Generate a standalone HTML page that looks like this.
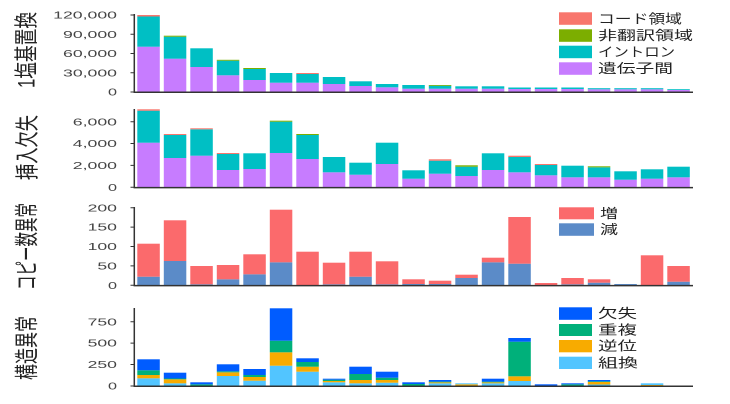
<!DOCTYPE html>
<html><head><meta charset="utf-8">
<style>
html,body{margin:0;padding:0;background:#fff;}
svg{display:block;}
.p{fill:#c77cff}.c{fill:#00bfc4}.g{fill:#7cae00}.r{fill:#f8766d}
.R{fill:#fb6a6c}.B{fill:#5b8bc8}
.k{fill:#005cff}.e{fill:#00b07a}.o{fill:#f8ab00}.l{fill:#52c5ff}
.t{font-family:"Liberation Sans",sans-serif;font-size:10px;fill:#444;}
.j{font-family:"Liberation Sans","Noto Sans CJK JP",sans-serif;fill:#222;}
.ax{stroke:#333;stroke-width:1.5;fill:none}
.tk{stroke:#333;stroke-width:1;fill:none}
</style></head><body>
<svg width="730" height="404" viewBox="0 0 730 404" xmlns="http://www.w3.org/2000/svg">
<rect width="730" height="404" fill="#fff"/>

<!-- ============ Panel 1 ============ -->
<g>
<rect class="p" x="137.3" y="46.7" width="22.5" height="45.3"/><rect class="c" x="137.3" y="16.5" width="22.5" height="30.2"/><rect class="r" x="137.3" y="15" width="22.5" height="1.5"/>
<rect class="p" x="163.8" y="58.7" width="22.5" height="33.3"/><rect class="c" x="163.8" y="36.7" width="22.5" height="22"/><rect class="g" x="163.8" y="35.7" width="22.5" height="1"/>
<rect class="p" x="190.3" y="67" width="22.5" height="25"/><rect class="c" x="190.3" y="48.3" width="22.5" height="18.7"/>
<rect class="p" x="216.8" y="75.3" width="22.5" height="16.7"/><rect class="c" x="216.8" y="60.7" width="22.5" height="14.6"/><rect class="g" x="216.8" y="59.8" width="22.5" height="0.9"/>
<rect class="p" x="243.3" y="80" width="22.5" height="12"/><rect class="c" x="243.3" y="69" width="22.5" height="11"/><rect class="g" x="243.3" y="68" width="22.5" height="1"/>
<rect class="p" x="269.8" y="82.7" width="22.5" height="9.3"/><rect class="c" x="269.8" y="73" width="22.5" height="9.7"/>
<rect class="p" x="296.3" y="82.7" width="22.5" height="9.3"/><rect class="c" x="296.3" y="74" width="22.5" height="8.7"/><rect class="r" x="296.3" y="73" width="22.5" height="1"/>
<rect class="p" x="322.8" y="84" width="22.5" height="8"/><rect class="c" x="322.8" y="77" width="22.5" height="7"/>
<rect class="p" x="349.3" y="86" width="22.5" height="6"/><rect class="c" x="349.3" y="81.3" width="22.5" height="4.7"/>
<rect class="p" x="375.8" y="87.3" width="22.5" height="4.7"/><rect class="c" x="375.8" y="84" width="22.5" height="3.3"/>
<rect class="p" x="402.3" y="88.7" width="22.5" height="3.3"/><rect class="c" x="402.3" y="85" width="22.5" height="3.7"/>
<rect class="p" x="428.8" y="88.7" width="22.5" height="3.3"/><rect class="c" x="428.8" y="85.7" width="22.5" height="3"/><rect class="g" x="428.8" y="85" width="22.5" height="0.8"/>
<rect class="p" x="455.3" y="88.7" width="22.5" height="3.3"/><rect class="c" x="455.3" y="86.3" width="22.5" height="2.4"/>
<rect class="p" x="481.8" y="88.7" width="22.5" height="3.3"/><rect class="c" x="481.8" y="86.3" width="22.5" height="2.4"/>
<rect class="p" x="508.3" y="89" width="22.5" height="3"/><rect class="c" x="508.3" y="87.5" width="22.5" height="1.5"/>
<rect class="p" x="534.8" y="89" width="22.5" height="3"/><rect class="c" x="534.8" y="87.5" width="22.5" height="1.5"/>
<rect class="p" x="561.3" y="89" width="22.5" height="3"/><rect class="c" x="561.3" y="87.5" width="22.5" height="1.5"/>
<rect class="p" x="587.8" y="89.3" width="22.5" height="2.7"/><rect class="c" x="587.8" y="88.2" width="22.5" height="1.1"/>
<rect class="p" x="614.3" y="89.3" width="22.5" height="2.7"/><rect class="c" x="614.3" y="88.2" width="22.5" height="1.1"/>
<rect class="p" x="640.8" y="89.3" width="22.5" height="2.7"/><rect class="c" x="640.8" y="88.2" width="22.5" height="1.1"/>
<rect class="p" x="667.3" y="90" width="22.5" height="2"/><rect class="c" x="667.3" y="89.2" width="22.5" height="0.8"/>

<path class="ax" d="M134.3 14V92.3H693"/>
<path class="tk" d="M130.5 15H134M130.5 34.2H134M130.5 53.5H134M130.5 72.8H134M130.5 92H134"/>
<text class="t" x="117" y="18.6" text-anchor="end" textLength="63.8" lengthAdjust="spacingAndGlyphs">120,000</text>
<text class="t" x="117" y="37.8" text-anchor="end" textLength="54" lengthAdjust="spacingAndGlyphs">90,000</text>
<text class="t" x="117" y="57.1" text-anchor="end" textLength="54" lengthAdjust="spacingAndGlyphs">60,000</text>
<text class="t" x="117" y="76.4" text-anchor="end" textLength="54" lengthAdjust="spacingAndGlyphs">30,000</text>
<text class="t" x="117" y="95.6" text-anchor="end" textLength="9" lengthAdjust="spacingAndGlyphs">0</text>

<text class="j" font-size="16" text-anchor="middle" dominant-baseline="central" transform="translate(27.5,50) scale(1.5,1) rotate(-90)" textLength="76" lengthAdjust="spacingAndGlyphs">1塩基置換</text>

<rect class="r" x="559" y="12.3" width="33" height="12.5"/>
<rect class="g" x="559" y="29.3" width="33" height="12.5"/>
<rect class="c" x="559" y="45.7" width="33" height="12.5"/>
<rect class="p" x="559" y="62.3" width="33" height="12.5"/>
<text class="j" font-size="13" x="598" y="18.8" dominant-baseline="central" textLength="84" lengthAdjust="spacingAndGlyphs">コード領域</text>
<text class="j" font-size="13" x="598" y="35.6" dominant-baseline="central" textLength="95" lengthAdjust="spacingAndGlyphs">非翻訳領域</text>
<text class="j" font-size="13" x="598" y="52" dominant-baseline="central" textLength="77" lengthAdjust="spacingAndGlyphs">イントロン</text>
<text class="j" font-size="13" x="598" y="68.6" dominant-baseline="central" textLength="75" lengthAdjust="spacingAndGlyphs">遺伝子間</text>
</g>

<!-- ============ Panel 2 ============ -->
<g>
<rect class="p" x="137.3" y="142.7" width="22.5" height="44.6"/><rect class="c" x="137.3" y="110.7" width="22.5" height="32"/><rect class="r" x="137.3" y="109.3" width="22.5" height="1.4"/>
<rect class="p" x="163.8" y="158" width="22.5" height="29.3"/><rect class="c" x="163.8" y="135" width="22.5" height="23"/><rect class="r" x="163.8" y="134" width="22.5" height="1"/>
<rect class="p" x="190.3" y="155.7" width="22.5" height="31.6"/><rect class="c" x="190.3" y="129.3" width="22.5" height="26.4"/><rect class="r" x="190.3" y="128.3" width="22.5" height="1"/>
<rect class="p" x="216.8" y="170" width="22.5" height="17.3"/><rect class="c" x="216.8" y="154" width="22.5" height="16"/><rect class="r" x="216.8" y="153" width="22.5" height="1"/>
<rect class="p" x="243.3" y="169" width="22.5" height="18.3"/><rect class="c" x="243.3" y="153.3" width="22.5" height="15.7"/>
<rect class="p" x="269.8" y="153" width="22.5" height="34.3"/><rect class="c" x="269.8" y="121.7" width="22.5" height="31.3"/><rect class="g" x="269.8" y="120.7" width="22.5" height="1"/>
<rect class="p" x="296.3" y="159" width="22.5" height="28.3"/><rect class="c" x="296.3" y="135" width="22.5" height="24"/><rect class="g" x="296.3" y="134" width="22.5" height="1"/>
<rect class="p" x="322.8" y="172.3" width="22.5" height="15"/><rect class="c" x="322.8" y="157" width="22.5" height="15.3"/>
<rect class="p" x="349.3" y="174.7" width="22.5" height="12.6"/><rect class="c" x="349.3" y="162.7" width="22.5" height="12"/>
<rect class="p" x="375.8" y="164" width="22.5" height="23.3"/><rect class="c" x="375.8" y="142.7" width="22.5" height="21.3"/>
<rect class="p" x="402.3" y="178.7" width="22.5" height="8.6"/><rect class="c" x="402.3" y="170.3" width="22.5" height="8.4"/>
<rect class="p" x="428.8" y="173.7" width="22.5" height="13.6"/><rect class="c" x="428.8" y="160.7" width="22.5" height="13"/><rect class="r" x="428.8" y="159.3" width="22.5" height="1.4"/>
<rect class="p" x="455.3" y="176" width="22.5" height="11.3"/><rect class="c" x="455.3" y="166.7" width="22.5" height="9.3"/><rect class="g" x="455.3" y="165.3" width="22.5" height="1.4"/>
<rect class="p" x="481.8" y="170" width="22.5" height="17.3"/><rect class="c" x="481.8" y="153.3" width="22.5" height="16.7"/>
<rect class="p" x="508.3" y="172.3" width="22.5" height="15"/><rect class="c" x="508.3" y="157" width="22.5" height="15.3"/><rect class="r" x="508.3" y="155.7" width="22.5" height="1.3"/>
<rect class="p" x="534.8" y="175.3" width="22.5" height="12"/><rect class="c" x="534.8" y="165" width="22.5" height="10.3"/><rect class="r" x="534.8" y="164" width="22.5" height="1"/>
<rect class="p" x="561.3" y="177.3" width="22.5" height="10"/><rect class="c" x="561.3" y="165.7" width="22.5" height="11.6"/>
<rect class="p" x="587.8" y="177.3" width="22.5" height="10"/><rect class="c" x="587.8" y="167.3" width="22.5" height="10"/><rect class="g" x="587.8" y="166.3" width="22.5" height="1"/>
<rect class="p" x="614.3" y="179.7" width="22.5" height="7.6"/><rect class="c" x="614.3" y="171.3" width="22.5" height="8.4"/>
<rect class="p" x="640.8" y="178.7" width="22.5" height="8.6"/><rect class="c" x="640.8" y="169.3" width="22.5" height="9.4"/>
<rect class="p" x="667.3" y="177.3" width="22.5" height="10"/><rect class="c" x="667.3" y="166.7" width="22.5" height="10.6"/>

<path class="ax" d="M134.3 109V187.6H693"/>
<path class="tk" d="M130.5 121.7H134M130.5 143.5H134M130.5 165.4H134M130.5 187.3H134"/>
<text class="t" x="117" y="125.3" text-anchor="end" textLength="44.2" lengthAdjust="spacingAndGlyphs">6,000</text>
<text class="t" x="117" y="147.1" text-anchor="end" textLength="44.2" lengthAdjust="spacingAndGlyphs">4,000</text>
<text class="t" x="117" y="169" text-anchor="end" textLength="44.2" lengthAdjust="spacingAndGlyphs">2,000</text>
<text class="t" x="117" y="190.9" text-anchor="end" textLength="9" lengthAdjust="spacingAndGlyphs">0</text>

<text class="j" font-size="16" text-anchor="middle" dominant-baseline="central" transform="translate(28.5,147.5) scale(1.5,1) rotate(-90)" textLength="65" lengthAdjust="spacingAndGlyphs">挿入欠失</text>
</g>

<!-- ============ Panel 3 ============ -->
<g>
<rect class="B" x="137.3" y="276.7" width="22.5" height="8.6"/><rect class="R" x="137.3" y="243.7" width="22.5" height="33"/>
<rect class="B" x="163.8" y="261" width="22.5" height="24.3"/><rect class="R" x="163.8" y="220.3" width="22.5" height="40.7"/>
<rect class="B" x="190.3" y="284.3" width="22.5" height="1"/><rect class="R" x="190.3" y="266" width="22.5" height="18.3"/>
<rect class="B" x="216.8" y="279.3" width="22.5" height="6"/><rect class="R" x="216.8" y="265" width="22.5" height="14.3"/>
<rect class="B" x="243.3" y="274.3" width="22.5" height="11"/><rect class="R" x="243.3" y="254.3" width="22.5" height="20"/>
<rect class="B" x="269.8" y="262.3" width="22.5" height="23"/><rect class="R" x="269.8" y="209.7" width="22.5" height="52.6"/>
<rect class="R" x="296.3" y="251.7" width="22.5" height="33.6"/>
<rect class="B" x="322.8" y="284.3" width="22.5" height="1"/><rect class="R" x="322.8" y="262.7" width="22.5" height="21.6"/>
<rect class="B" x="349.3" y="276.7" width="22.5" height="8.6"/><rect class="R" x="349.3" y="251.7" width="22.5" height="25"/>
<rect class="B" x="375.8" y="284.3" width="22.5" height="1"/><rect class="R" x="375.8" y="261.3" width="22.5" height="23"/>
<rect class="B" x="402.3" y="284" width="22.5" height="1.3"/><rect class="R" x="402.3" y="279.3" width="22.5" height="4.7"/>
<rect class="B" x="428.8" y="284" width="22.5" height="1.3"/><rect class="R" x="428.8" y="280.7" width="22.5" height="3.3"/>
<rect class="B" x="455.3" y="278" width="22.5" height="7.3"/><rect class="R" x="455.3" y="274.7" width="22.5" height="3.3"/>
<rect class="B" x="481.8" y="262.3" width="22.5" height="23"/><rect class="R" x="481.8" y="257.7" width="22.5" height="4.6"/>
<rect class="B" x="508.3" y="263.7" width="22.5" height="21.6"/><rect class="R" x="508.3" y="217" width="22.5" height="46.7"/>
<rect class="R" x="534.8" y="283" width="22.5" height="2.3"/>
<rect class="B" x="561.3" y="284.3" width="22.5" height="1"/><rect class="R" x="561.3" y="278" width="22.5" height="6.3"/>
<rect class="B" x="587.8" y="282.7" width="22.5" height="2.6"/><rect class="R" x="587.8" y="279.3" width="22.5" height="3.4"/>
<rect class="B" x="614.3" y="284" width="22.5" height="1.3"/>
<rect class="R" x="640.8" y="255.3" width="22.5" height="30"/>
<rect class="B" x="667.3" y="281.7" width="22.5" height="3.6"/><rect class="R" x="667.3" y="266" width="22.5" height="15.7"/>

<path class="ax" d="M134.3 207V285.6H693"/>
<path class="tk" d="M130.5 207.7H134M130.5 227.1H134M130.5 246.5H134M130.5 265.9H134M130.5 285.3H134"/>
<text class="t" x="117" y="211.3" text-anchor="end" textLength="29.4" lengthAdjust="spacingAndGlyphs">200</text>
<text class="t" x="117" y="230.7" text-anchor="end" textLength="29.4" lengthAdjust="spacingAndGlyphs">150</text>
<text class="t" x="117" y="250.1" text-anchor="end" textLength="29.4" lengthAdjust="spacingAndGlyphs">100</text>
<text class="t" x="117" y="269.5" text-anchor="end" textLength="19.6" lengthAdjust="spacingAndGlyphs">50</text>
<text class="t" x="117" y="288.9" text-anchor="end" textLength="9" lengthAdjust="spacingAndGlyphs">0</text>

<text class="j" font-size="16" text-anchor="middle" dominant-baseline="central" transform="translate(28,246.5) scale(1.5,1) rotate(-90)" textLength="87" lengthAdjust="spacingAndGlyphs">コピー数異常</text>

<rect class="R" x="559" y="207.3" width="35" height="12"/>
<rect class="B" x="559" y="223.3" width="35" height="12.5"/>
<text class="j" font-size="13" x="600" y="213.3" dominant-baseline="central" textLength="18" lengthAdjust="spacingAndGlyphs">増</text>
<text class="j" font-size="13" x="600" y="229.6" dominant-baseline="central" textLength="18" lengthAdjust="spacingAndGlyphs">減</text>
</g>

<!-- ============ Panel 4 ============ -->
<g>
<rect class="l" x="137.3" y="378.3" width="22.5" height="7.7"/><rect class="o" x="137.3" y="375" width="22.5" height="3.3"/><rect class="e" x="137.3" y="370.3" width="22.5" height="4.7"/><rect class="k" x="137.3" y="359.3" width="22.5" height="11"/>
<rect class="l" x="163.8" y="383.3" width="22.5" height="2.7"/><rect class="o" x="163.8" y="379.3" width="22.5" height="4"/><rect class="e" x="163.8" y="378.5" width="22.5" height="0.8"/><rect class="k" x="163.8" y="372.7" width="22.5" height="5.8"/>
<rect class="e" x="190.3" y="384.3" width="22.5" height="1.7"/><rect class="k" x="190.3" y="382.3" width="22.5" height="2"/>
<rect class="l" x="216.8" y="376" width="22.5" height="10"/><rect class="o" x="216.8" y="372.3" width="22.5" height="3.7"/><rect class="e" x="216.8" y="371.3" width="22.5" height="1"/><rect class="k" x="216.8" y="364.3" width="22.5" height="7"/>
<rect class="l" x="243.3" y="380.7" width="22.5" height="5.3"/><rect class="o" x="243.3" y="377" width="22.5" height="3.7"/><rect class="e" x="243.3" y="375" width="22.5" height="2"/><rect class="k" x="243.3" y="369" width="22.5" height="6"/>
<rect class="l" x="269.8" y="365.7" width="22.5" height="20.3"/><rect class="o" x="269.8" y="352.3" width="22.5" height="13.4"/><rect class="e" x="269.8" y="340.7" width="22.5" height="11.6"/><rect class="k" x="269.8" y="308.3" width="22.5" height="32.4"/>
<rect class="l" x="296.3" y="371.7" width="22.5" height="14.3"/><rect class="o" x="296.3" y="366.7" width="22.5" height="5"/><rect class="e" x="296.3" y="362" width="22.5" height="4.7"/><rect class="k" x="296.3" y="358.3" width="22.5" height="3.7"/>
<rect class="l" x="322.8" y="382.3" width="22.5" height="3.7"/><rect class="o" x="322.8" y="381" width="22.5" height="1.3"/><rect class="e" x="322.8" y="379.7" width="22.5" height="1.3"/><rect class="k" x="322.8" y="378.7" width="22.5" height="1"/>
<rect class="l" x="349.3" y="383.3" width="22.5" height="2.7"/><rect class="o" x="349.3" y="380" width="22.5" height="3.3"/><rect class="e" x="349.3" y="374" width="22.5" height="6"/><rect class="k" x="349.3" y="366.7" width="22.5" height="7.3"/>
<rect class="l" x="375.8" y="382.7" width="22.5" height="3.3"/><rect class="o" x="375.8" y="380" width="22.5" height="2.7"/><rect class="e" x="375.8" y="377.7" width="22.5" height="2.3"/><rect class="k" x="375.8" y="371.7" width="22.5" height="6"/>
<rect class="e" x="402.3" y="384" width="22.5" height="2"/><rect class="k" x="402.3" y="382.3" width="22.5" height="1.7"/>
<rect class="l" x="428.8" y="383.3" width="22.5" height="2.7"/><rect class="o" x="428.8" y="382.3" width="22.5" height="1"/><rect class="e" x="428.8" y="381.6" width="22.5" height="0.7"/><rect class="k" x="428.8" y="380" width="22.5" height="1.6"/>
<rect class="o" x="455.3" y="384.3" width="22.5" height="1.7"/><rect class="l" x="455.3" y="383.3" width="22.5" height="1"/>
<rect class="l" x="481.8" y="383.3" width="22.5" height="2.7"/><rect class="o" x="481.8" y="382.3" width="22.5" height="1"/><rect class="e" x="481.8" y="381.6" width="22.5" height="0.7"/><rect class="k" x="481.8" y="378.7" width="22.5" height="2.9"/>
<rect class="l" x="508.3" y="381" width="22.5" height="5"/><rect class="o" x="508.3" y="376.3" width="22.5" height="4.7"/><rect class="e" x="508.3" y="341.7" width="22.5" height="34.6"/><rect class="k" x="508.3" y="338" width="22.5" height="3.7"/>
<rect class="k" x="534.8" y="384.3" width="22.5" height="1.7"/>
<rect class="e" x="561.3" y="384.3" width="22.5" height="1.7"/><rect class="k" x="561.3" y="383.3" width="22.5" height="1"/>
<rect class="l" x="587.8" y="384.5" width="22.5" height="1.5"/><rect class="o" x="587.8" y="382" width="22.5" height="2.5"/><rect class="e" x="587.8" y="381.3" width="22.5" height="0.7"/><rect class="k" x="587.8" y="380" width="22.5" height="1.3"/>
<rect class="o" x="640.8" y="385" width="22.5" height="1"/><rect class="l" x="640.8" y="383.3" width="22.5" height="1.7"/>

<path class="ax" d="M134.3 308V386.3H693"/>
<path class="tk" d="M130.5 321.7H134M130.5 343.1H134M130.5 364.5H134M130.5 386H134"/>
<text class="t" x="117" y="325.3" text-anchor="end" textLength="29.4" lengthAdjust="spacingAndGlyphs">750</text>
<text class="t" x="117" y="346.7" text-anchor="end" textLength="29.4" lengthAdjust="spacingAndGlyphs">500</text>
<text class="t" x="117" y="368.1" text-anchor="end" textLength="29.4" lengthAdjust="spacingAndGlyphs">250</text>
<text class="t" x="117" y="389.6" text-anchor="end" textLength="9" lengthAdjust="spacingAndGlyphs">0</text>

<text class="j" font-size="16" text-anchor="middle" dominant-baseline="central" transform="translate(28,348) scale(1.5,1) rotate(-90)" textLength="64" lengthAdjust="spacingAndGlyphs">構造異常</text>

<rect class="k" x="559" y="307.3" width="33" height="12.5"/>
<rect class="e" x="559" y="324" width="33" height="12"/>
<rect class="o" x="559" y="340" width="33" height="12.3"/>
<rect class="l" x="559" y="356.7" width="33" height="12.3"/>
<text class="j" font-size="13" x="598" y="313.7" dominant-baseline="central" textLength="39" lengthAdjust="spacingAndGlyphs">欠失</text>
<text class="j" font-size="13" x="598" y="330" dominant-baseline="central" textLength="39" lengthAdjust="spacingAndGlyphs">重複</text>
<text class="j" font-size="13" x="598" y="346.2" dominant-baseline="central" textLength="39" lengthAdjust="spacingAndGlyphs">逆位</text>
<text class="j" font-size="13" x="598" y="362.8" dominant-baseline="central" textLength="40" lengthAdjust="spacingAndGlyphs">組換</text>
</g>
</svg>
</body></html>
